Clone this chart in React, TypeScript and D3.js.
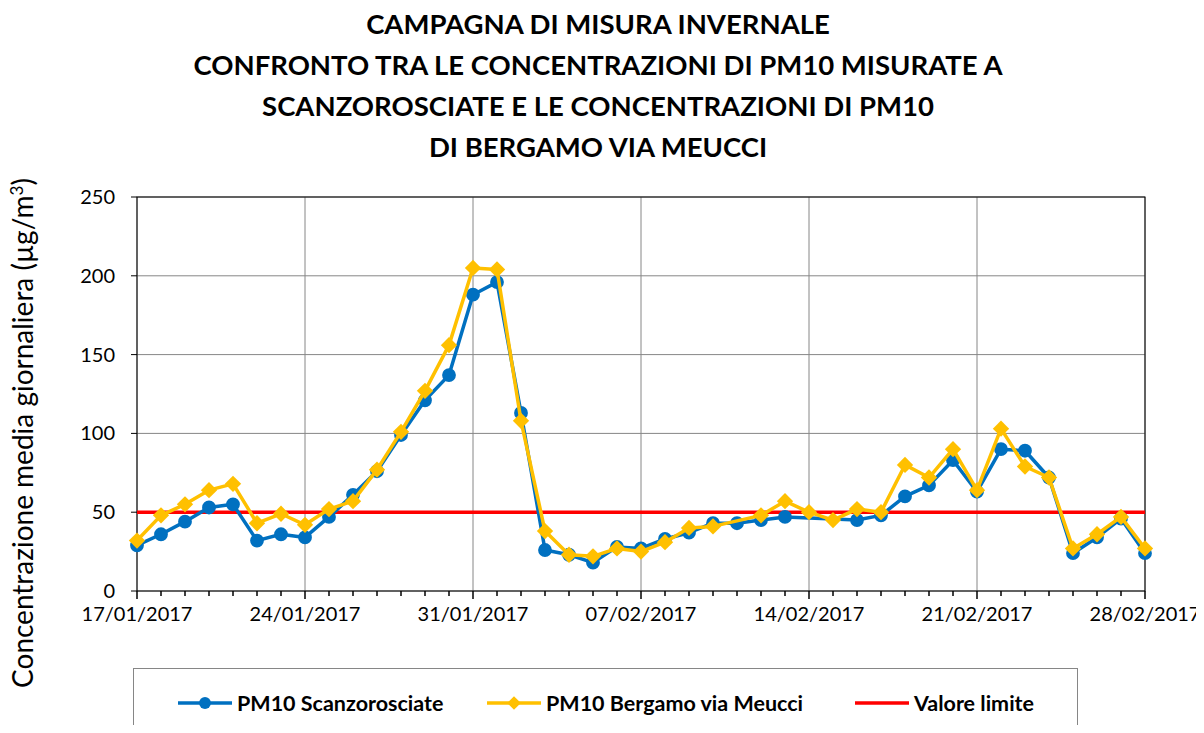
import React, { useRef, useEffect } from "react";
import * as d3 from "d3";

// Data
const startDate = new Date(Date.UTC(2017, 0, 17));
const endDate = new Date(Date.UTC(2017, 1, 28));
const dates = d3.utcDay.range(startDate, d3.utcDay.offset(endDate, 1));

const scanzorosciate: (number | null)[] = [
  29, 36, 44, 53, 55, 32, 36, 34, 47, 61, 76, 99, 121, 137, 188,
  196, 113, 26, 23, 18, 28, 27, 33, 37, 43, 43, 45, 47, null, null,
  45, 48, 60, 67, 83, 63, 90, 89, 72, 24, 34, 46, 24,
];
const bergamo: (number | null)[] = [
  32, 48, 55, 64, 68, 43, 49, 42, 52, 57, 77, 101, 127, 156, 205,
  204, 108, 38, 23, 22, 27, 25, 31, 40, 41, null, 48, 57, 50, 45,
  52, 50, 80, 72, 90, 64, 103, 79, 72, 27, 36, 47, 27,
];
const limitValue = 50;
const yTicks = [0, 50, 100, 150, 200, 250];
const titleLines = [
  "CAMPAGNA DI MISURA INVERNALE",
  "CONFRONTO TRA LE CONCENTRAZIONI DI PM10 MISURATE A",
  "SCANZOROSCIATE E LE CONCENTRAZIONI DI PM10",
  "DI BERGAMO VIA MEUCCI",
];
const legendLabels = ["PM10 Scanzorosciate", "PM10 Bergamo via Meucci", "Valore limite"];

const BLUE = "#0070C0";
const YELLOW = "#FFC000";
const RED = "#FF0000";
const FONT = "Lato, 'Open Sans', sans-serif";

const Chart: React.FC = () => {
  const svgRef = useRef<SVGSVGElement | null>(null);

  useEffect(() => {
    if (!svgRef.current) return;
    const width = 1204;
    const height = 733;
    const margin = { top: 197, left: 137 };
    const plotW = 1008;
    const plotH = 394;

    const root = d3.select(svgRef.current);
    root.selectAll("*").remove();

    const x = d3.scaleUtc().domain([startDate, endDate]).range([0, plotW]);
    const y = d3.scaleLinear().domain([0, 250]).range([plotH, 0]);

    // Title
    root
      .append("g")
      .selectAll("text")
      .data(titleLines)
      .enter()
      .append("text")
      .attr("x", 598)
      .attr("y", (_d, i) => 34 + i * 41)
      .attr("text-anchor", "middle")
      .attr("font-family", FONT)
      .attr("font-weight", "bold")
      .attr("font-size", 27.5)
      .attr("fill", "#000")
      .text((d) => d);

    const g = root.append("g").attr("transform", `translate(${margin.left},${margin.top})`);

    // Grid
    g.append("g")
      .selectAll("line")
      .data(yTicks)
      .enter()
      .append("line")
      .attr("x1", 0)
      .attr("x2", plotW)
      .attr("y1", (d) => y(d))
      .attr("y2", (d) => y(d))
      .attr("stroke", "#868686")
      .attr("stroke-width", 1);
    const majorTicks = dates.filter((_d, i) => i % 7 === 0);
    g.append("g")
      .selectAll("line")
      .data(majorTicks)
      .enter()
      .append("line")
      .attr("x1", (d) => x(d))
      .attr("x2", (d) => x(d))
      .attr("y1", 0)
      .attr("y2", plotH)
      .attr("stroke", "#868686")
      .attr("stroke-width", 1);

    // Plot border
    g.append("rect")
      .attr("x", 0)
      .attr("y", 0)
      .attr("width", plotW)
      .attr("height", plotH)
      .attr("fill", "none")
      .attr("stroke", "#000")
      .attr("stroke-width", 1);

    // Y axis
    const yAxis = g.append("g");
    yAxis
      .selectAll("line")
      .data(yTicks)
      .enter()
      .append("line")
      .attr("x1", -6)
      .attr("x2", 0)
      .attr("y1", (d) => y(d))
      .attr("y2", (d) => y(d))
      .attr("stroke", "#000");
    yAxis
      .selectAll("text")
      .data(yTicks)
      .enter()
      .append("text")
      .attr("x", -22)
      .attr("y", (d) => y(d))
      .attr("dy", "0.35em")
      .attr("text-anchor", "end")
      .attr("font-family", FONT)
      .attr("font-size", 20)
      .text((d) => d);

    // X axis ticks
    const xAxis = g.append("g").attr("transform", `translate(0,${plotH})`);
    xAxis
      .selectAll("line")
      .data(dates)
      .enter()
      .append("line")
      .attr("x1", (d) => x(d))
      .attr("x2", (d) => x(d))
      .attr("y1", 0)
      .attr("y2", (_d, i) => (i % 7 === 0 ? 8 : 5))
      .attr("stroke", "#000")
      .attr("stroke-width", 1.5);
    xAxis
      .selectAll("text")
      .data(majorTicks)
      .enter()
      .append("text")
      .attr("x", (d) => x(d))
      .attr("y", 30)
      .attr("text-anchor", "middle")
      .attr("font-family", FONT)
      .attr("font-size", 20)
      .text((d) => d3.utcFormat("%d/%m/%Y")(d));

    // Y axis title
    const yt = root
      .append("text")
      .attr("transform", `translate(33,433) rotate(-90)`)
      .attr("text-anchor", "middle")
      .attr("font-family", FONT)
      .attr("font-size", 28);
    yt.append("tspan").text("Concentrazione media giornaliera (µg/m");
    yt.append("tspan").attr("dy", -10).attr("font-size", 17).text("3");
    yt.append("tspan").attr("dy", 10).text(")");

    // Limit line
    g.append("line")
      .attr("x1", 0)
      .attr("x2", plotW)
      .attr("y1", y(limitValue))
      .attr("y2", y(limitValue))
      .attr("stroke", RED)
      .attr("stroke-width", 3.5);

    const series = [
      { values: scanzorosciate, color: BLUE, symbol: d3.symbolCircle, size: 150 },
      { values: bergamo, color: YELLOW, symbol: d3.symbolDiamond2, size: 170 },
    ];

    series.forEach((s) => {
      const pts = dates
        .map((d, i) => ({ date: d, value: s.values[i] }))
        .filter((p) => p.value !== null) as { date: Date; value: number }[];
      const line = d3
        .line<{ date: Date; value: number }>()
        .x((d) => x(d.date))
        .y((d) => y(d.value));
      g.append("path")
        .datum(pts)
        .attr("d", line)
        .attr("fill", "none")
        .attr("stroke", s.color)
        .attr("stroke-width", 3.5)
        .attr("stroke-linejoin", "round");
      g.append("g")
        .selectAll("path")
        .data(pts)
        .enter()
        .append("path")
        .attr("transform", (d) => `translate(${x(d.date)},${y(d.value)})`)
        .attr("d", d3.symbol().type(s.symbol).size(s.size)())
        .attr("fill", s.color);
    });

    // Legend
    const lg = root.append("g");
    lg.append("rect")
      .attr("x", 133.5)
      .attr("y", 668.5)
      .attr("width", 944)
      .attr("height", 80)
      .attr("fill", "#fff")
      .attr("stroke", "#868686")
      .attr("stroke-width", 1);
    const legendItems = [
      { label: legendLabels[0], color: BLUE, x: 178, symbol: d3.symbolCircle as d3.SymbolType | null, size: 110 },
      { label: legendLabels[1], color: YELLOW, x: 487, symbol: d3.symbolDiamond2 as d3.SymbolType | null, size: 120 },
      { label: legendLabels[2], color: RED, x: 855, symbol: null, size: 0 },
    ];
    legendItems.forEach((it) => {
      lg.append("line")
        .attr("x1", it.x)
        .attr("x2", it.x + 54)
        .attr("y1", 703)
        .attr("y2", 703)
        .attr("stroke", it.color)
        .attr("stroke-width", 3.5);
      if (it.symbol) {
        lg.append("path")
          .attr("transform", `translate(${it.x + 27},703)`)
          .attr("d", d3.symbol().type(it.symbol).size(it.size)())
          .attr("fill", it.color);
      }
      lg.append("text")
        .attr("x", it.x + 59)
        .attr("y", 703)
        .attr("dy", "0.35em")
        .attr("font-family", FONT)
        .attr("font-weight", "bold")
        .attr("font-size", 21.5)
        .text(it.label);
    });

    root.attr("width", width).attr("height", height);
  }, []);

  return <svg ref={svgRef} width={1204} height={733} style={{ display: "block" }} />;
};

export default function App() {
  return (
    <div style={{ margin: -8 }}>
      <Chart />
    </div>
  );
}
